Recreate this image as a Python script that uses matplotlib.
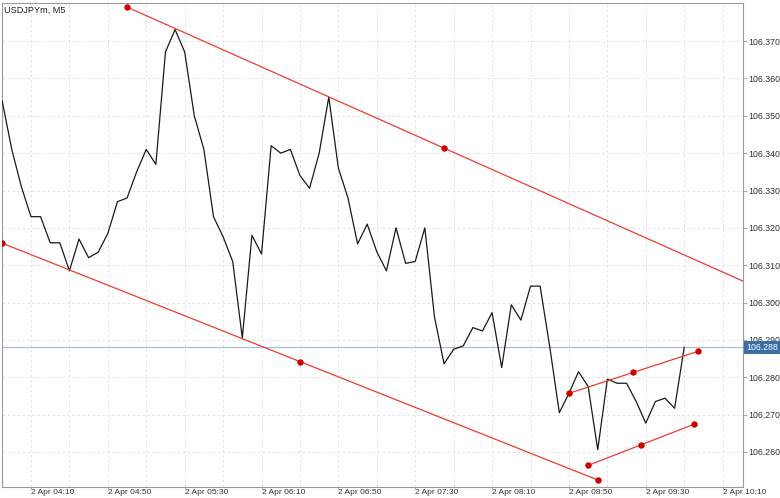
import matplotlib
matplotlib.use("Agg")
import matplotlib.pyplot as plt
import matplotlib.dates as mdates
import matplotlib.transforms as mtransforms
import numpy as np
import pandas as pd

plt.rcParams['font.family'] = ['Liberation Sans', 'DejaVu Sans']

# M5 closes, 2 Apr 03:55 .. 09:50
close = [
    106.354, 106.341, 106.331, 106.323, 106.323, 106.316, 106.316, 106.3085,
    106.317, 106.312, 106.3135, 106.3185, 106.327, 106.328, 106.335, 106.341,
    106.337, 106.3671, 106.3731, 106.3671, 106.350, 106.341, 106.323, 106.3176,
    106.311, 106.2905, 106.318, 106.313, 106.342, 106.340, 106.341, 106.334,
    106.3306, 106.340, 106.355, 106.336, 106.328, 106.3157, 106.321, 106.3136,
    106.3085, 106.320, 106.3105, 106.311, 106.320, 106.2962, 106.2836, 106.2875,
    106.2884, 106.2933, 106.2924, 106.2973, 106.2826, 106.2994, 106.2953, 106.3044,
    106.3044, 106.2882, 106.2705, 106.2757, 106.2815, 106.2775, 106.2606, 106.2795,
    106.2784, 106.2784, 106.2735, 106.2677, 106.2735, 106.2744, 106.2717, 106.288,
]
times = pd.date_range("2020-04-02 03:55", periods=len(close), freq="5min")
last_price = 106.288

# trend lines drawn on the chart: (start, end) times and prices
upper_t = ["2020-04-02 05:00", "2020-04-02 10:30"]
upper_p = [106.3791, 106.3036]
lower_t = ["2020-04-02 03:55", "2020-04-02 09:05"]
lower_p = [106.3159, 106.2525]
small_hi_t = ["2020-04-02 08:50", "2020-04-02 09:57"]
small_hi_p = [106.2757, 106.2869]
small_lo_t = ["2020-04-02 09:00", "2020-04-02 09:55"]
small_lo_p = [106.2564, 106.2674]

label_times = pd.date_range("2020-04-02 04:10", "2020-04-02 10:10", freq="40min")
grid_times = pd.date_range("2020-04-02 04:10", "2020-04-02 10:10", freq="20min")
price_ticks = [106.26, 106.27, 106.28, 106.29, 106.30, 106.31,
               106.32, 106.33, 106.34, 106.35, 106.36, 106.37]

fig = plt.figure(figsize=(7.8, 4.98), dpi=100)
ax = fig.add_axes([2 / 780, 11.3 / 498, 741 / 780, 483.7 / 498])

ax.plot(times, close, color='#1a1a1a', lw=0.9, zorder=3)
ax.axhline(last_price, color='#a9bfd6', lw=0.9, zorder=2)


def trend(t, p):
    t = pd.to_datetime(t)
    mid_t = t[0] + (t[1] - t[0]) / 2
    mid_p = (p[0] + p[1]) / 2
    ax.plot(t, p, color='#ee3b33', lw=0.9, zorder=4)
    ax.plot([t[0], mid_t, t[1]], [p[0], mid_p, p[1]], ls='none', marker='o',
            ms=3.6, color='#cc0000', zorder=5)


trend(upper_t, upper_p)
trend(lower_t, lower_p)
trend(small_hi_t, small_hi_p)
trend(small_lo_t, small_lo_p)

ax.set_xlim(times[0] - pd.Timedelta(seconds=5), times[0] + pd.Timedelta(minutes=385.6))
ax.set_ylim(106.2507, 106.3802)

# axes styling
for s in ax.spines.values():
    s.set_color('#9a9a9a')
    s.set_linewidth(0.8)

ax.yaxis.tick_right()
ax.set_yticks(price_ticks)
ax.set_yticklabels([f"{v:.3f}" for v in price_ticks])
ax.tick_params(axis='y', length=3, width=0.6, pad=1, labelsize=6.3,
               color='#9a9a9a', labelcolor='#333333')

ax.set_xticks(mdates.date2num(label_times.to_pydatetime()))
ax.set_xticklabels([f"{t.day} {t:%b %H:%M}" for t in label_times])
for lab in ax.get_xticklabels():
    lab.set_horizontalalignment('left')
ax.set_xticks(mdates.date2num(grid_times.to_pydatetime()), minor=True)
ax.tick_params(axis='x', which='major', length=1.5, width=0.6, pad=0.5,
               labelsize=6.0, color='#9a9a9a', labelcolor='#333333')
ax.tick_params(axis='x', which='minor', length=0)

ax.grid(True, which='both', axis='x', color='#dedede', ls=(0, (3, 3)), lw=0.6)
ax.grid(True, which='major', axis='y', color='#dedede', ls=(0, (3, 3)), lw=0.6)
ax.set_axisbelow(True)

ax.text(0.003, 0.995, "USDJPYm, M5", transform=ax.transAxes, ha='left', va='top',
        fontsize=6.6, color='#222222')

trans = mtransforms.blended_transform_factory(ax.transAxes, ax.transData)
ax.text(1 + 3 / 741, last_price, f"{last_price:.3f}", transform=trans,
        ha='left', va='center', fontsize=6.3, color='white', clip_on=False,
        zorder=10, bbox=dict(facecolor='#3b6ea5', edgecolor='none', pad=1.6))

fig.savefig("out.png", dpi=100)
